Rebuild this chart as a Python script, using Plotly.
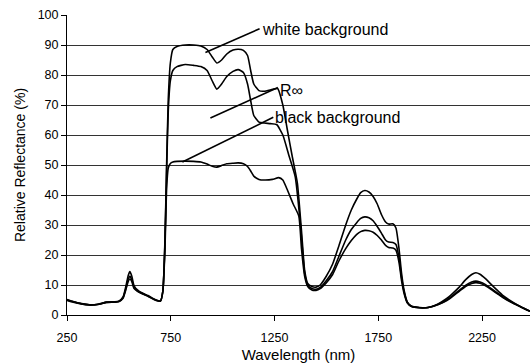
import plotly.graph_objects as go

# Reflectance spectra of one leaf sample measured over three backings (%)
wl_white = [250, 280, 320, 360, 400, 440, 480, 500, 520, 535, 545, 553, 562, 572, 582, 600, 640, 680, 700,
            712, 722, 730, 738, 748, 760, 780, 820, 860, 895, 925, 950, 972, 995, 1020, 1050, 1075,
            1100, 1120, 1135, 1150, 1175, 1200, 1240, 1265, 1290, 1311, 1335, 1360, 1380, 1395, 1410,
            1430, 1450, 1470, 1500, 1530, 1560, 1593, 1620, 1645, 1665, 1685, 1705, 1725, 1745, 1765,
            1785, 1800, 1820, 1835, 1850, 1862, 1875, 1890, 1910, 1950, 1990, 2040, 2080, 2110, 2140,
            2170, 2200, 2220, 2240, 2265, 2300, 2330, 2360, 2400, 2440, 2481]
refl_white = [5.2, 4.5, 3.8, 3.4, 3.6, 4.3, 4.4, 4.6, 6.0, 10.0, 13.2, 14.5, 13.0, 10.0, 8.8, 7.8, 6.5, 5.0, 4.7,
              8, 25, 50, 72, 84, 88.5, 89.5, 90, 90, 89.7, 88.5, 86, 84, 85, 87, 88.3, 88.6,
              88.2, 86.5, 81.5, 77, 74.8, 74.6, 75.2, 75.5, 70, 62, 53, 44, 28, 15, 10.5,
              9.5, 9.3, 10, 13, 17, 23, 30, 35, 38.5, 40.8, 41.5, 41, 39.5, 37, 33.5,
              31, 30.3, 30.4, 29, 22, 14, 8, 4.3, 2.9, 2.5, 2.5, 3.8, 5.5, 7.3, 9.3,
              11.7, 13.5, 14.1, 13.6, 12.2, 9.8, 7.8, 6.0, 4.2, 2.6, 1.2]

wl_rinf = [250, 280, 320, 360, 400, 440, 480, 500, 520, 535, 545, 553, 562, 572, 582, 600, 640, 680, 700,
           712, 722, 730, 738, 748, 760, 780, 820, 860, 895, 925, 950, 972, 995, 1020, 1050, 1075,
           1100, 1120, 1135, 1150, 1175, 1200, 1230, 1260, 1290, 1320, 1350, 1375, 1395, 1410,
           1430, 1450, 1470, 1500, 1530, 1560, 1593, 1620, 1645, 1665, 1685, 1705, 1725, 1745, 1765,
           1785, 1800, 1820, 1835, 1850, 1862, 1875, 1890, 1910, 1950, 1990, 2040, 2080, 2110, 2140,
           2170, 2200, 2220, 2240, 2265, 2300, 2330, 2360, 2400, 2440, 2481]
refl_rinf = [5.0, 4.4, 3.7, 3.4, 3.6, 4.2, 4.3, 4.5, 5.8, 9.2, 12.0, 13.0, 11.8, 9.4, 8.5, 7.6, 6.3, 4.9, 4.6,
             8, 24, 48, 68, 78, 81.5, 82.8, 83.5, 83.2, 82.8, 81.5, 78, 75.3, 77, 79.5, 81.2, 81.8,
             80.8, 77, 71.5, 66.5, 64.3, 64, 63.8, 63.5, 60, 53, 46, 30, 14, 10,
             8.8, 8.6, 9.2, 11.5, 14.5, 19.5, 25, 28.5, 30.7, 32.2, 32.7, 32.4, 31.4, 29.5, 27.3,
             25, 24.3, 24.2, 23.5, 19, 12.5, 7.5, 4.2, 2.9, 2.4, 2.5, 3.6, 5.0, 6.6, 8.2,
             9.9, 11.0, 11.3, 11.0, 10.2, 8.5, 7.0, 5.6, 4.0, 2.6, 1.2]

wl_black = [250, 280, 320, 360, 400, 440, 480, 500, 520, 535, 545, 553, 562, 572, 582, 600, 640, 680, 700,
            712, 722, 730, 738, 748, 760, 780, 820, 860, 895, 925, 950, 972, 995, 1020, 1050, 1075,
            1100, 1120, 1135, 1150, 1175, 1200, 1240, 1270, 1290, 1310, 1340, 1367, 1380, 1395, 1410,
            1430, 1450, 1470, 1500, 1530, 1560, 1593, 1620, 1645, 1665, 1685, 1705, 1725, 1745, 1765,
            1785, 1800, 1820, 1835, 1850, 1862, 1875, 1890, 1910, 1950, 1990, 2040, 2080, 2110, 2140,
            2170, 2200, 2220, 2240, 2265, 2300, 2330, 2360, 2400, 2440, 2481]
refl_black = [4.9, 4.3, 3.7, 3.3, 3.5, 4.2, 4.3, 4.5, 5.6, 8.8, 11.2, 12.0, 11.2, 9.0, 8.3, 7.5, 6.2, 4.8, 4.6,
              8, 22, 42, 49, 50.5, 51, 51.2, 51.3, 51.2, 51.0, 50.3, 49.6, 49.3, 49.8, 50.4, 50.6, 50.7,
              50.4, 49.5, 48, 46.3, 45.2, 45, 45.2, 45.8, 45, 42, 37, 33, 22, 13, 9.5,
              8.3, 8.2, 8.8, 10.8, 13.5, 18, 22.1, 24.8, 26.8, 27.8, 28.2, 28.1, 27.6, 26.5, 25,
              23.2, 22.5, 22.3, 21.6, 17.5, 11.5, 7, 4, 2.8, 2.4, 2.5, 3.5, 4.8, 6.3, 7.9,
              9.5, 10.5, 10.8, 10.6, 9.8, 8.2, 6.8, 5.4, 3.9, 2.6, 1.3]

x_ticks = [250, 750, 1250, 1750, 2250]
y_ticks = [0, 10, 20, 30, 40, 50, 60, 70, 80, 90, 100]

FONT = "Arial, Liberation Sans, sans-serif"

fig = go.Figure()
for wl, refl, name in [(wl_white, refl_white, "white background"),
                       (wl_rinf, refl_rinf, "R∞"),
                       (wl_black, refl_black, "black background")]:
    fig.add_trace(go.Scatter(x=wl, y=refl, mode="lines", name=name,
                             line=dict(color="black", width=1.6, shape="spline", smoothing=0.5),
                             showlegend=False, hoverinfo="x+y+name"))

# Callout labels with leader lines to their curves
callouts = [
    ("white background", (1182, 95.3), (917, 87.5), (1178, 95.4)),
    ("R∞", (1268, 75.0), (941, 65.7), (1266, 75.8)),
    ("black background", (1242, 65.7), (806, 51.0), (1244, 65.9)),
]
for text, (tx, ty), (x0, y0), (x1, y1) in callouts:
    fig.add_shape(type="line", x0=x0, y0=y0, x1=x1, y1=y1, xref="x", yref="y",
                  line=dict(color="black", width=1.6))
    fig.add_annotation(x=tx, y=ty, text=text, showarrow=False, xanchor="left", yanchor="middle",
                       font=dict(family=FONT, size=16, color="black"))

fig.update_layout(
    width=530, height=364,
    margin=dict(l=67, r=0, t=15, b=49),
    paper_bgcolor="white", plot_bgcolor="white",
    font=dict(family=FONT, color="black"),
    xaxis=dict(range=[250, 2481], tickvals=x_ticks, ticks="outside", ticklen=5, tickcolor="black",
               showline=True, linecolor="black", linewidth=1, showgrid=False, zeroline=False,
               ticklabelstandoff=6,
               tickfont=dict(size=12.5), title=dict(text="Wavelength (nm)", font=dict(size=15), standoff=5)),
    yaxis=dict(range=[0, 100], tickvals=y_ticks, ticks="outside", ticklen=5, tickcolor="black",
               showline=True, linecolor="black", linewidth=1, showgrid=True, gridcolor="#333",
               gridwidth=1, zeroline=False, tickfont=dict(size=12.5),
               title=dict(text="Relative Reflectance (%)", font=dict(size=14), standoff=8)),
)

fig.write_html("out.html")
